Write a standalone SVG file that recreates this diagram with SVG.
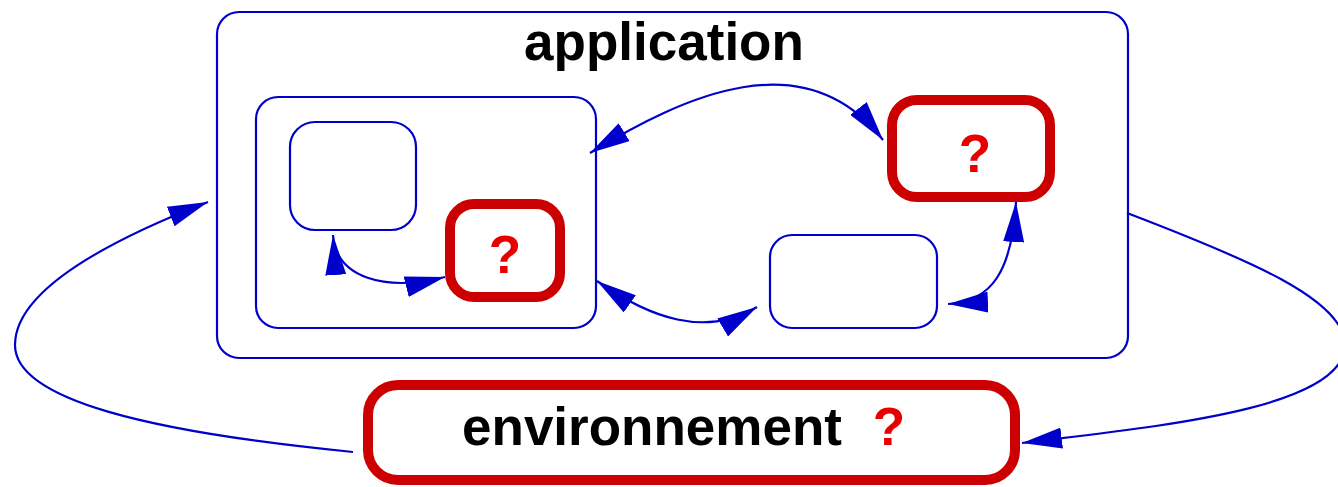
<svg xmlns="http://www.w3.org/2000/svg" width="1338" height="487" viewBox="0 0 1338 487">
  <style>
    .box { fill: #ffffff; stroke: #0000cc; stroke-width: 2.2; }
    .hot { fill: #ffffff; stroke: #cc0000; stroke-width: 10; }
    .title { font-family: "Liberation Sans", Arial, sans-serif; font-weight: bold; font-size: 53px; fill: #000000; text-anchor: middle; }
    .q { font-family: "Liberation Sans", Arial, sans-serif; font-weight: bold; font-size: 53px; fill: #e80000; text-anchor: middle; }
    .edge { fill: none; stroke: #0000cc; stroke-width: 2.2; }
  </style>
  <defs>
    <marker id="head" markerUnits="userSpaceOnUse" viewBox="0 0 40 21" refX="40" refY="10.5" markerWidth="40" markerHeight="21" orient="auto-start-reverse">
      <path d="M0,0 L40,10.5 L0,21 z" fill="#0000cc"/>
    </marker>
  </defs>

  <rect width="1338" height="487" fill="#ffffff"/>

  <!-- application container -->
  <g id="application">
    <rect class="box" x="217" y="12" width="911" height="346" rx="22"/>
    <text class="title" x="664" y="60">application</text>
  </g>

  <!-- composite component on the left -->
  <g id="composite">
    <rect class="box" x="256" y="97" width="340" height="231" rx="22"/>
  </g>

  <g id="component-a">
    <rect class="box" x="290" y="122" width="126" height="108" rx="25"/>
  </g>

  <g id="component-b">
    <rect class="hot" x="450" y="204" width="110" height="93" rx="24"/>
    <text class="q" x="505" y="273">?</text>
  </g>

  <g id="component-c">
    <rect class="hot" x="892" y="100" width="158" height="97" rx="25"/>
    <text class="q" x="975" y="172">?</text>
  </g>

  <g id="component-d">
    <rect class="box" x="770" y="235" width="167" height="93" rx="22"/>
  </g>

  <!-- environment -->
  <g id="environment">
    <rect class="hot" x="368" y="385" width="647" height="95" rx="30"/>
    <text class="title" x="652" y="445">environnement</text>
    <text class="q" x="889" y="445">?</text>
  </g>

  <!-- connectors -->
  <g id="connectors">
    <!-- environment to application -->
    <path class="edge" marker-end="url(#head)" d="M353,452 C150,432 15,400 15,345 C15,290 110,240 208,202"/>
    <!-- application to environment -->
    <path class="edge" marker-end="url(#head)" d="M1127,213 C1250,260 1345,300 1345,345 C1345,410 1150,427 1022,443"/>
    <!-- composite <-> component-c -->
    <path class="edge" marker-start="url(#head)" marker-end="url(#head)" d="M590,153 C685,95 805,40 883,140"/>
    <!-- composite <-> component-d -->
    <path class="edge" marker-start="url(#head)" marker-end="url(#head)" d="M597,281 C650,318 705,338 757,307"/>
    <!-- component-d <-> component-c -->
    <path class="edge" marker-start="url(#head)" marker-end="url(#head)" d="M948,304 C992,302 1012,270 1016,202"/>
    <!-- component-a <-> component-b -->
    <path class="edge" marker-start="url(#head)" marker-end="url(#head)" d="M333,235 C336,278 385,292 445,277"/>
  </g>
</svg>
